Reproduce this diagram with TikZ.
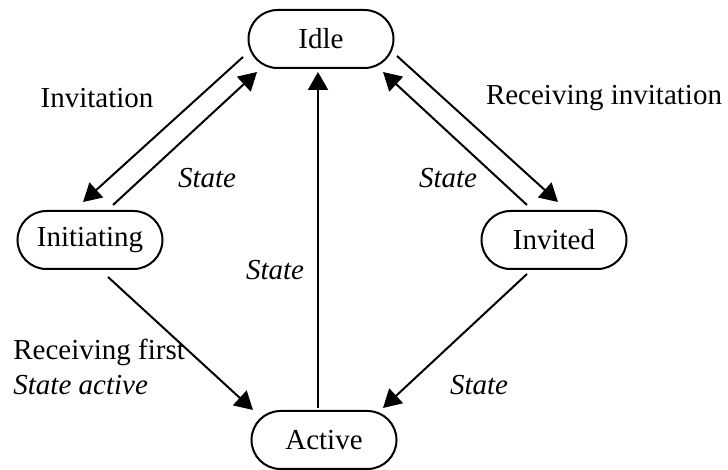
\documentclass[tikz,border=0pt]{standalone}
\usepackage{fontspec}
\setmainfont{Liberation Serif}
\usetikzlibrary{arrows.meta}
\begin{document}
\begin{tikzpicture}[x=1pt,y=1pt,
  font=\fontsize{14.5}{17.5}\selectfont,
  state/.style={draw, line width=1pt, rectangle, rounded corners=14.5pt,
    minimum width=72.5pt, minimum height=29pt, inner sep=0pt},
  trans/.style={line width=1pt, -{Triangle[length=9pt,width=10pt]}},
  lbl/.style={inner sep=0pt}]
\useasboundingbox (0,0) rectangle (364,235);

% states
\node[state] (idle) at (160.5,215.5) {Idle};
\node[state] (init) at (45,115) {Initiating};
\node[state] (invd) at (277,115) {Invited};
\node[state] (actv) at (162,15) {Active};

% transitions
\draw[trans] ([shift={(-39,-9)}]idle.center) -- ([shift={(-3.5,19)}]init.center);
\draw[trans] ([shift={(11.5,17.5)}]init.center) -- ([shift={(-32,-16.5)}]idle.center);
\draw[trans] ([shift={(38,-8.5)}]idle.center) -- ([shift={(2,19)}]invd.center);
\draw[trans] ([shift={(-13.5,17.5)}]invd.center) -- ([shift={(31,-16.5)}]idle.center);
\draw[trans] ([shift={(9,-18.5)}]init.center) -- ([shift={(-35.5,15)}]actv.center);
\draw[trans] ([shift={(-13.5,-17)}]invd.center) -- ([shift={(29.5,16)}]actv.center);
\draw[trans] ([shift={(-3,16)}]actv.center) -- ([shift={(-1.5,-16.5)}]idle.center);

% labels
\node[lbl] (l1) at (48.5,186) {Invitation};
\node[lbl] (l2) at (103.5,146) {\itshape State};
\node[lbl] (l3) at (302,186) {Receiving invitation};
\node[lbl] (l4) at (224,146) {\itshape State};
\node[lbl] (l5) at (137.5,100) {\itshape State};
\node[lbl, anchor=west, align=left] (l6) at (6.5,51.5) {Receiving first\\\itshape State active};
\node[lbl] (l7) at (239.5,42.5) {\itshape State};
\end{tikzpicture}
\end{document}
